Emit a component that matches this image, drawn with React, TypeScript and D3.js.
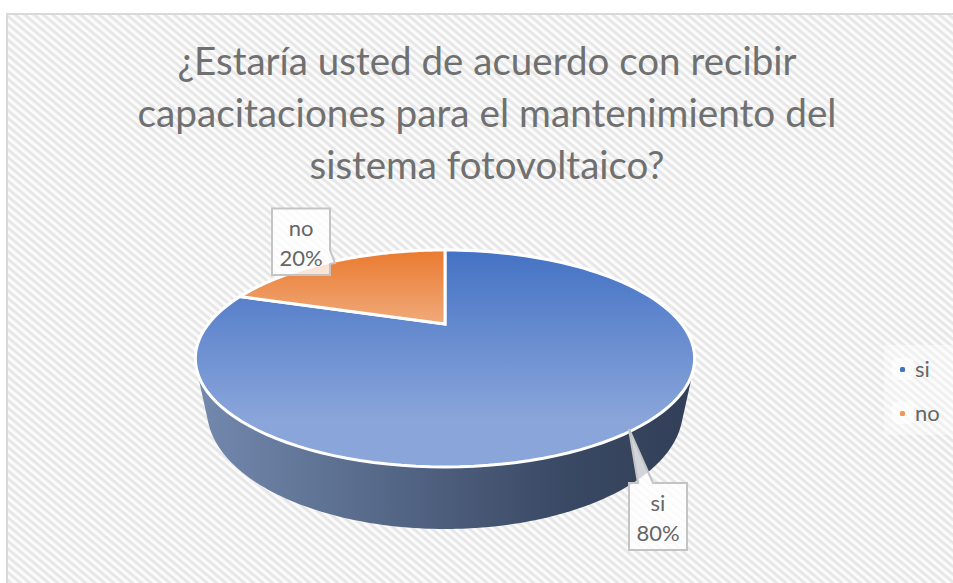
import React from "react";
import * as d3 from "d3";

const categories = ["si", "no"];
const values = [80, 20];
const titleLines = [
  "¿Estaría usted de acuerdo con recibir",
  "capacitaciones para el mantenimiento del",
  "sistema fotovoltaico?",
];
const titleWidths = [619, 699, 355];
const sliceGradients = ["gBlue", "gOrange"];
const legendColors = ["#4472c4", "#f4955a"];

const W = 953;
const H = 583;
const FONT = "Lato,'Open Sans',sans-serif";
const TEXT = "#707070";

// perspective projection of the unit pie disc onto the screen
const cx = 445;
const project = (a: number): [number, number] => {
  const u = Math.sin(a);
  const v = -Math.cos(a);
  const d = 1 - 0.318 * v;
  return [cx + (236.7 * u) / d, (324 - 5.5 * v) / d];
};
const arcPoints = (a0: number, a1: number) =>
  d3.range(0, 121).map((i) => project(a0 + ((a1 - a0) * i) / 120));

const rim = (a: number): [number, number] => [cx + 238 * Math.cos(a), 410 + 119 * Math.sin(a)];

const arcs = d3.pie<number>().sort(null)(values);
const line = d3.line();
const wall = d3.polygonHull([
  ...arcPoints(0, Math.PI * 2),
  ...d3.range(0, 240).map((i) => rim((i / 240) * Math.PI * 2)),
])!;

const callouts = [
  {
    lines: ["no", "20%"],
    d: "M272 208.5H330V250L335 263L330 264V275H272Z",
    tx: 301,
    ty: [236, 266],
  },
  {
    lines: ["si", "80%"],
    d: "M629 483H638L629 429L653 483H687V550H629Z",
    tx: 658,
    ty: [511, 541],
  },
];

export default function App() {
  return (
    <svg
      width={W}
      height={H}
      viewBox={`0 0 ${W} ${H}`}
      style={{ position: "absolute", left: 0, top: 0, background: "#fff" }}
    >
      <defs>
        <pattern id="hatch" width="6" height="6" patternUnits="userSpaceOnUse" patternTransform="rotate(40)">
          <rect width="6" height="6" fill="#fbfbfb" />
          <rect width="6" height="2.8" fill="#e6e6e6" />
        </pattern>
        <linearGradient id="gBlue" gradientUnits="userSpaceOnUse" x1="0" y1="250" x2="0" y2="420">
          <stop offset="0" stopColor="#4472c4" />
          <stop offset="1" stopColor="#8aa5da" />
        </linearGradient>
        <linearGradient id="gOrange" gradientUnits="userSpaceOnUse" x1="0" y1="250" x2="0" y2="324">
          <stop offset="0" stopColor="#ea7a30" />
          <stop offset="1" stopColor="#f0aa7a" />
        </linearGradient>
        <linearGradient id="gWall" gradientUnits="userSpaceOnUse" x1="195" y1="0" x2="693" y2="0">
          <stop offset="0" stopColor="#7389ae" />
          <stop offset="0.75" stopColor="#394863" />
          <stop offset="1" stopColor="#333f58" />
        </linearGradient>
      </defs>

      <rect x={7} y={14} width={W} height={H} fill="url(#hatch)" stroke="#d9d9d9" strokeWidth={2} />

      <g fontFamily={FONT} fontSize={39} fill={TEXT} textAnchor="middle">
        {titleLines.map((t, i) => (
          <text
            key={t}
            x={487}
            y={75 + i * 52}
            textLength={titleWidths[i]}
            lengthAdjust="spacingAndGlyphs"
          >
            {t}
          </text>
        ))}
      </g>

      <path d={line(wall)! + "Z"} fill="url(#gWall)" />

      {arcs.map((a, i) => {
        const pts = [[cx, 324] as [number, number], ...arcPoints(a.startAngle, a.endAngle)];
        return (
          <path
            key={categories[i]}
            d={line(pts)! + "Z"}
            fill={`url(#${sliceGradients[i]})`}
            stroke="#fff"
            strokeWidth={3}
            strokeLinejoin="miter"
          />
        );
      })}

      {callouts.map((c) => (
        <g key={c.lines[0]}>
          <path d={c.d} fill="#ffffff" fillOpacity={0.78} stroke="#c4c4c4" strokeWidth={2} />
          {c.lines.map((t, i) => (
            <text key={t} x={c.tx} y={c.ty[i]} fontFamily={FONT} fontSize={22} fill="#666" textAnchor="middle">
              {t}
            </text>
          ))}
        </g>
      ))}

      <rect x={884} y={345} width={69} height={90} fill="#fff" fillOpacity={0.4} />
      {categories.map((c, i) => (
        <g key={c}>
          <rect x={892} y={358 + i * 44} width={22} height={22} rx={5} fill="#fff" fillOpacity={0.6} />
          <rect x={900} y={367 + i * 44} width={5} height={5} rx={1.5} fill={legendColors[i]} />
          <text x={915} y={377 + i * 44} fontFamily={FONT} fontSize={22} fill="#666">
            {c}
          </text>
        </g>
      ))}
    </svg>
  );
}
